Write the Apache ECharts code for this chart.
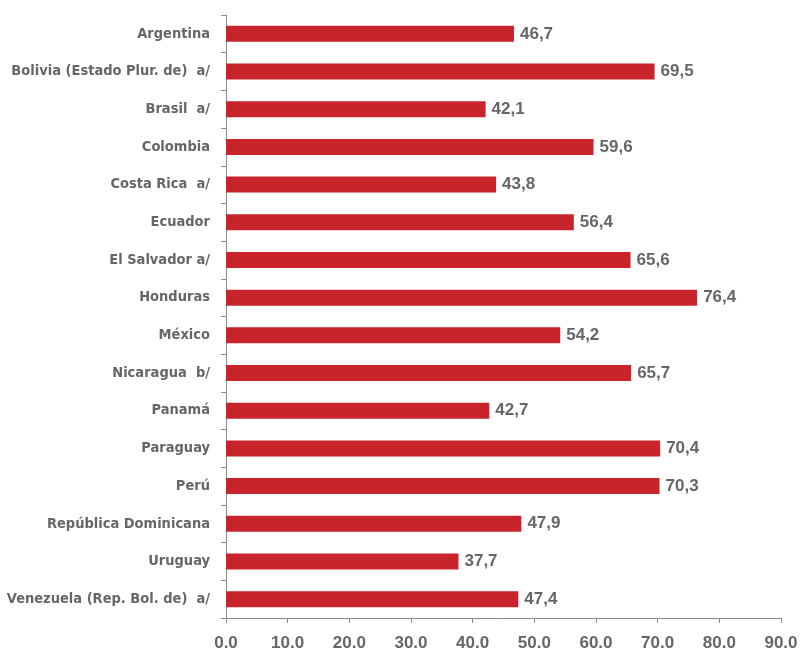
<!DOCTYPE html>
<html>
<head>
<meta charset="utf-8">
<script src="https://cdn.jsdelivr.net/npm/echarts@6/dist/echarts.min.js"></script>
<style>
  html, body { margin: 0; padding: 0; background: #ffffff; }
  #chart { width: 802px; height: 652px; }
</style>
</head>
<body>
<div id="chart"></div>
<script>
// Countries, top to bottom
const countries = [
  'Argentina',
  'Bolivia (Estado Plur. de)  a/',
  'Brasil  a/',
  'Colombia',
  'Costa Rica  a/',
  'Ecuador',
  'El Salvador a/',
  'Honduras',
  'México',
  'Nicaragua  b/',
  'Panamá',
  'Paraguay',
  'Perú',
  'República Dominicana',
  'Uruguay',
  'Venezuela (Rep. Bol. de)  a/'
];

// Percentages per country
const values = [46.7, 69.5, 42.1, 59.6, 43.8, 56.4, 65.6, 76.4, 54.2, 65.7, 42.7, 70.4, 70.3, 47.9, 37.7, 47.4];

// Value axis range
const axisMin = 0;
const axisMax = 90;
const axisStep = 10;

const labelGray = '#666666';
const lineGray = '#8c8c8c';
const barRed = '#c9242c';
const condensedFont = '"DejaVu Sans Condensed", "Liberation Sans Narrow", "Liberation Sans", Arial, sans-serif';
const plainFont = '"Liberation Sans", Arial, sans-serif';

const chart = echarts.init(document.getElementById('chart'), null, { renderer: 'canvas' });

chart.setOption({
  animation: false,
  grid: { left: 226, right: 21, top: 15, bottom: 29, containLabel: false },
  xAxis: {
    type: 'value',
    min: axisMin,
    max: axisMax,
    interval: axisStep,
    axisLine: { show: true, lineStyle: { color: lineGray, width: 1 } },
    axisTick: { show: true, length: 5, lineStyle: { color: lineGray } },
    splitLine: { show: false },
    axisLabel: {
      margin: 17,
      color: labelGray,
      fontFamily: plainFont,
      fontWeight: 'bold',
      fontSize: 17,
      formatter: v => v.toFixed(1)
    }
  },
  yAxis: {
    type: 'category',
    data: countries,
    inverse: true,
    axisLine: { show: true, lineStyle: { color: lineGray, width: 1 } },
    axisTick: { show: true, length: 5, lineStyle: { color: lineGray } },
    axisLabel: {
      margin: 16,
      color: labelGray,
      fontFamily: condensedFont,
      fontWeight: 'bold',
      fontSize: 14.5
    }
  },
  series: [{
    type: 'bar',
    data: values,
    barWidth: 16,
    itemStyle: { color: barRed },
    label: {
      show: true,
      position: 'right',
      distance: 6,
      color: labelGray,
      fontFamily: plainFont,
      fontWeight: 'bold',
      fontSize: 17,
      formatter: p => p.value.toFixed(1).replace('.', ',')
    }
  }]
});
</script>
</body>
</html>
